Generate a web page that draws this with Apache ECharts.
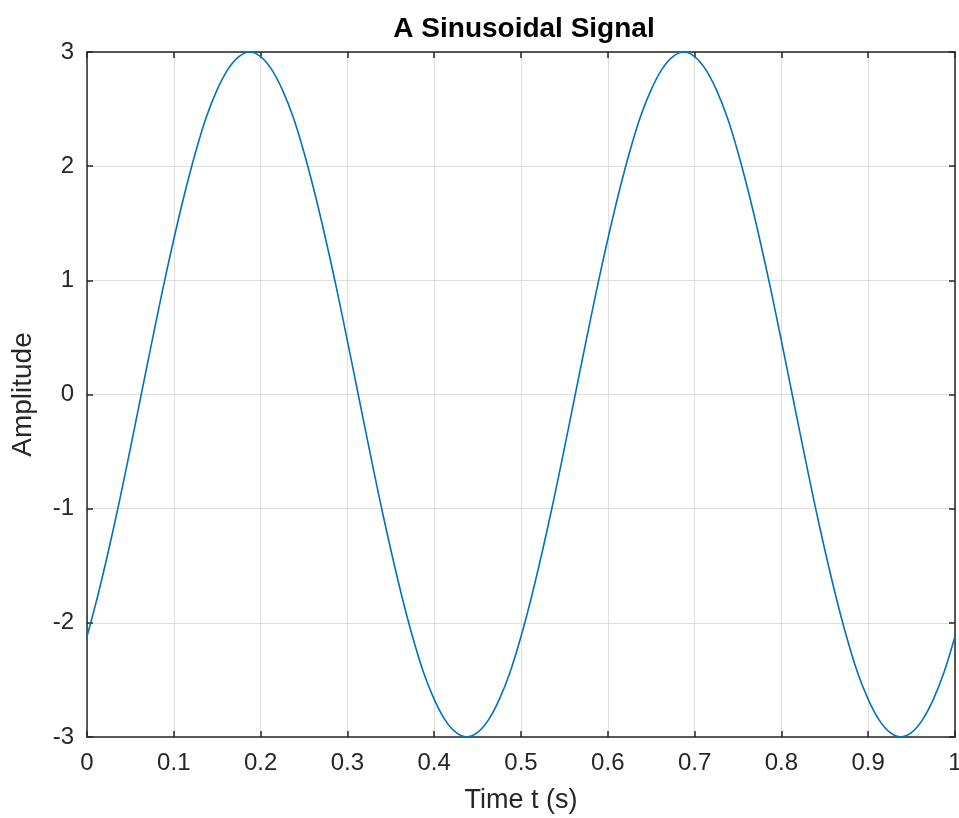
<!DOCTYPE html>
<html>
<head>
<meta charset="utf-8">
<script src="https://cdn.jsdelivr.net/npm/echarts@6/dist/echarts.min.js"></script>
<style>
  html, body { margin: 0; padding: 0; background: #fff; }
  #chart { width: 959px; height: 818px; }
</style>
</head>
<body>
<div id="chart"></div>
<script>
var times = [0, 0.0125, 0.025, 0.0375, 0.05, 0.0625, 0.075, 0.0875, 0.1, 0.1125,
  0.125, 0.1375, 0.15, 0.1625, 0.175, 0.1875, 0.2, 0.2125, 0.225, 0.2375,
  0.25, 0.2625, 0.275, 0.2875, 0.3, 0.3125, 0.325, 0.3375, 0.35, 0.3625,
  0.375, 0.3875, 0.4, 0.4125, 0.425, 0.4375, 0.45, 0.4625, 0.475, 0.4875,
  0.5, 0.5125, 0.525, 0.5375, 0.55, 0.5625, 0.575, 0.5875, 0.6, 0.6125,
  0.625, 0.6375, 0.65, 0.6625, 0.675, 0.6875, 0.7, 0.7125, 0.725, 0.7375,
  0.75, 0.7625, 0.775, 0.7875, 0.8, 0.8125, 0.825, 0.8375, 0.85, 0.8625,
  0.875, 0.8875, 0.9, 0.9125, 0.925, 0.9375, 0.95, 0.9625, 0.975, 0.9875, 1]
var amplitude = [-2.12, -1.76, -1.36, -0.93, -0.47, 0, 0.47, 0.93, 1.36, 1.76,
  2.12, 2.43, 2.67, 2.85, 2.96, 3.0, 2.96, 2.85, 2.67, 2.43,
  2.12, 1.76, 1.36, 0.93, 0.47, 0, -0.47, -0.93, -1.36, -1.76,
  -2.12, -2.43, -2.67, -2.85, -2.96, -3.0, -2.96, -2.85, -2.67, -2.43,
  -2.12, -1.76, -1.36, -0.93, -0.47, 0, 0.47, 0.93, 1.36, 1.76,
  2.12, 2.43, 2.67, 2.85, 2.96, 3.0, 2.96, 2.85, 2.67, 2.43,
  2.12, 1.76, 1.36, 0.93, 0.47, 0, -0.47, -0.93, -1.36, -1.76,
  -2.12, -2.43, -2.67, -2.85, -2.96, -3.0, -2.96, -2.85, -2.67, -2.43, -2.12]
var xTicks = [0, 0.1, 0.2, 0.3, 0.4, 0.5, 0.6, 0.7, 0.8, 0.9, 1]
var yTicks = [-3, -2, -1, 0, 1, 2, 3]

var axisColor = '#262626'
var font = 'Helvetica, "Liberation Sans", Arial, sans-serif'

var chart = echarts.init(document.getElementById('chart'))

var points = times.map(function (t, i) { return [t, amplitude[i]] })

function xLabel (v) {
  return String(Math.round(v * 10) / 10)
}

var option = {
  animation: false,
  backgroundColor: '#fff',
  title: {
    text: 'A Sinusoidal Signal',
    left: 519,
    top: 10,
    textAlign: 'center',
    textStyle: { fontFamily: font, fontSize: 28, fontWeight: 'bold', color: '#000' }
  },
  grid: { left: 87, right: 4, top: 52, bottom: 81, outerBoundsMode: 'none', containLabel: false },
  xAxis: [
    {
      type: 'value',
      min: xTicks[0],
      max: xTicks[xTicks.length - 1],
      interval: 0.1,
      name: 'Time t (s)',
      nameLocation: 'middle',
      nameGap: 50,
      nameTextStyle: { fontFamily: font, fontSize: 27, color: axisColor },
      axisLine: { show: true, onZero: false, lineStyle: { color: axisColor, width: 1.5 } },
      axisTick: { show: true, inside: true, length: 6, lineStyle: { color: axisColor, width: 1.5 } },
      axisLabel: { fontFamily: font, fontSize: 24, color: axisColor, margin: 14, formatter: xLabel },
      splitLine: { show: true, lineStyle: { color: '#dedede', width: 1 } }
    },
    {
      type: 'value',
      position: 'top',
      min: xTicks[0],
      max: xTicks[xTicks.length - 1],
      interval: 0.1,
      axisLine: { show: true, onZero: false, lineStyle: { color: axisColor, width: 1.5 } },
      axisTick: { show: true, inside: true, length: 6, lineStyle: { color: axisColor, width: 1.5 } },
      axisLabel: { show: false },
      splitLine: { show: false }
    }
  ],
  yAxis: [
    {
      type: 'value',
      min: yTicks[0],
      max: yTicks[yTicks.length - 1],
      interval: 1,
      name: 'Amplitude',
      nameLocation: 'middle',
      nameGap: 50,
      nameRotate: 90,
      nameTextStyle: { fontFamily: font, fontSize: 28, color: axisColor },
      axisLine: { show: true, onZero: false, lineStyle: { color: axisColor, width: 1.5 } },
      axisTick: { show: true, inside: true, length: 6, lineStyle: { color: axisColor, width: 1.5 } },
      axisLabel: { fontFamily: font, fontSize: 24, color: axisColor, margin: 13 },
      splitLine: { show: true, lineStyle: { color: '#dedede', width: 1 } }
    },
    {
      type: 'value',
      position: 'right',
      min: yTicks[0],
      max: yTicks[yTicks.length - 1],
      interval: 1,
      axisLine: { show: true, onZero: false, lineStyle: { color: axisColor, width: 1.5 } },
      axisTick: { show: true, inside: true, length: 6, lineStyle: { color: axisColor, width: 1.5 } },
      axisLabel: { show: false },
      splitLine: { show: false }
    }
  ],
  series: [
    {
      type: 'line',
      data: points,
      smooth: 0.3,
      showSymbol: false,
      clip: true,
      lineStyle: { color: '#0072BD', width: 1.6 }
    }
  ]
}

chart.setOption(option)
</script>
</body>
</html>
